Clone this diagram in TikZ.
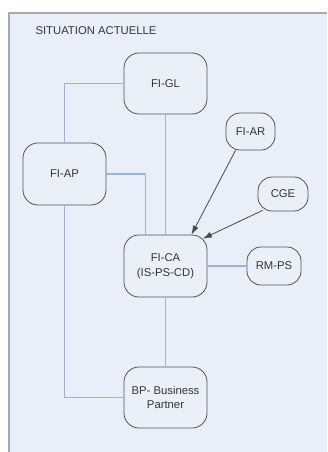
\documentclass[tikz,border=0pt]{standalone}
\usepackage{fontspec}
\setmainfont{Liberation Sans}
\usetikzlibrary{calc,arrows.meta}
\definecolor{panelfill}{HTML}{E9EEF8}
\definecolor{paneledge}{HTML}{A8AAAE}
\definecolor{boxfill}{HTML}{EBEFF8}
\definecolor{boxedge}{HTML}{505458}
\definecolor{linkblue}{HTML}{9DB1D9}
\definecolor{arrowgray}{HTML}{45484C}
\definecolor{labelgray}{HTML}{333538}
\tikzset{
  module/.style={draw=boxedge, fill=boxfill, line width=0.8pt,
    rounded corners=15pt, align=center, inner sep=2pt,
    text=labelgray, font=\fontsize{11.3}{14.5}\selectfont},
  bigmodule/.style={module, minimum width=83pt, minimum height=61pt},
  smallmodule/.style={module, rounded corners=14pt},
  link/.style={draw=linkblue, line width=1.1pt},
  feed/.style={draw=arrowgray, line width=0.8pt, -{Latex[length=9pt,width=6pt]}}
}
\begin{document}
\begin{tikzpicture}[x=1pt,y=-1pt]
  \useasboundingbox (0,0) rectangle (327,452);
  \fill[white] (0,0) rectangle (327,452);
  % panel
  \fill[panelfill] (8,12) rectangle (327,452);
  \draw[paneledge, line width=1.6pt] (8.8,452) -- (8.8,12.8) -- (327,12.8);
  \node[anchor=west, text=labelgray, font=\fontsize{11.3}{13}\selectfont] (title) at (32,31) {SITUATION ACTUELLE};

  % modules
  \node[bigmodule] (FIGL) at (165.5,83.5) {FI-GL};
  \node[bigmodule, minimum height=62pt] (FIAP) at (64.5,174) {FI-AP};
  \node[bigmodule, minimum height=62pt] (FICA) at (165.5,266) {FI-CA\\(IS-PS-CD)};
  \node[bigmodule] (BP) at (165.5,397.5) {BP- Business\\Partner};
  \node[smallmodule, minimum width=49pt, minimum height=37pt] (FIAR) at (250.5,131.5) {FI-AR};
  \node[smallmodule, minimum width=50pt, minimum height=34pt] (CGE) at (283,194) {CGE};
  \node[smallmodule, minimum width=54pt, minimum height=38pt] (RMPS) at (274,266) {RM-PS};

  % links between modules
  \draw[link] (FIGL.west) -| (FIAP.north);
  \draw[link] (FIGL.south) -- (FICA.north);
  \draw[link] (FIAP.east) -| ($(FICA.north)+(-20,0)$);
  \draw[link] (FIAP.south) |- (BP.west);
  \draw[link] (FICA.south) -- (BP.north);
  \draw[link] (FICA.east) -- (RMPS.west);

  % feeds into FI-CA
  \draw[feed] ($(FIAR.south)+(-15,0)$) -- ($(FICA.north)+(26,0)$);
  \draw[feed] ($(CGE.south west)+(5,-1)$) -- ($(FICA.north east)+(-4.5,4)$);
\end{tikzpicture}
\end{document}
